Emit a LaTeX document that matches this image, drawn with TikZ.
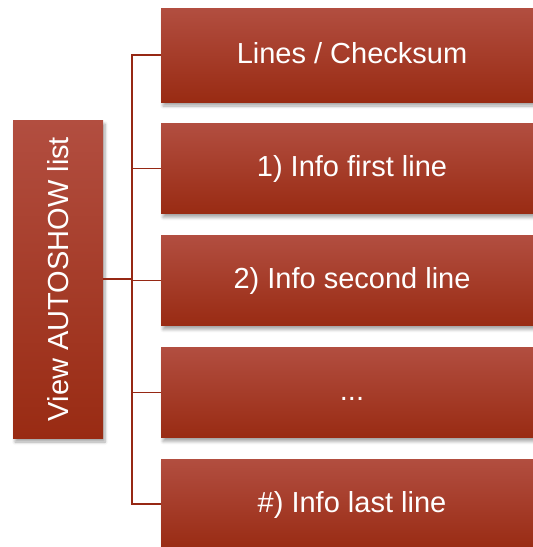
\documentclass[tikz,border=0pt]{standalone}
\usepackage{fontspec}
\setmainfont{Liberation Sans}
\usetikzlibrary{shadows.blur}
\definecolor{boxtop}{RGB}{178,78,64}
\definecolor{boxbot}{RGB}{153,43,19}
\definecolor{linec}{RGB}{150,40,20}
\tikzset{
  redbox/.style={rectangle, inner sep=0pt, top color=boxtop, bottom color=boxbot,
    text=white, font=\fontsize{29}{34}\selectfont, text height=21pt, text depth=5pt,
    blur shadow={shadow xshift=2pt, shadow yshift=-4pt, shadow blur steps=6, shadow blur radius=3pt, shadow opacity=35}},
  conn/.style={draw=linec, line width=1.6pt}
}
\begin{document}
\begin{tikzpicture}[x=1pt,y=-1pt]
\useasboundingbox (0,0) rectangle (533,547);
\clip (0,0) rectangle (533,547);
\node[redbox, minimum width=90pt, minimum height=318pt] (root) at (58,279) {};
\node[rotate=90, text=white, font=\fontsize{29}{34}\selectfont] (roottxt) at (root.center) {View AUTOSHOW list};
\node[redbox, minimum width=382pt, minimum height=94pt] (b1) at (352,55) {Lines / Checksum};
\node[redbox, minimum width=382pt, minimum height=90pt] (b2) at (352,168.5) {1) Info first line};
\node[redbox, minimum width=382pt, minimum height=90pt] (b3) at (352,280.5) {2) Info second line};
\node[redbox, minimum width=382pt, minimum height=90pt] (b4) at (352,392.5) {...};
\node[redbox, minimum width=382pt, minimum height=90pt] (b5) at (352,504) {\#) Info last line};
\coordinate (j) at (132,279);
\draw[conn] (root.east) -- (j);
\draw[conn] (b1.west) -| (132,504) -- (b5.west);
\draw[conn] (132,168.5) -- (b2.west);
\draw[conn] (132,280.5) -- (b3.west);
\draw[conn] (132,392.5) -- (b4.west);
\end{tikzpicture}
\end{document}
